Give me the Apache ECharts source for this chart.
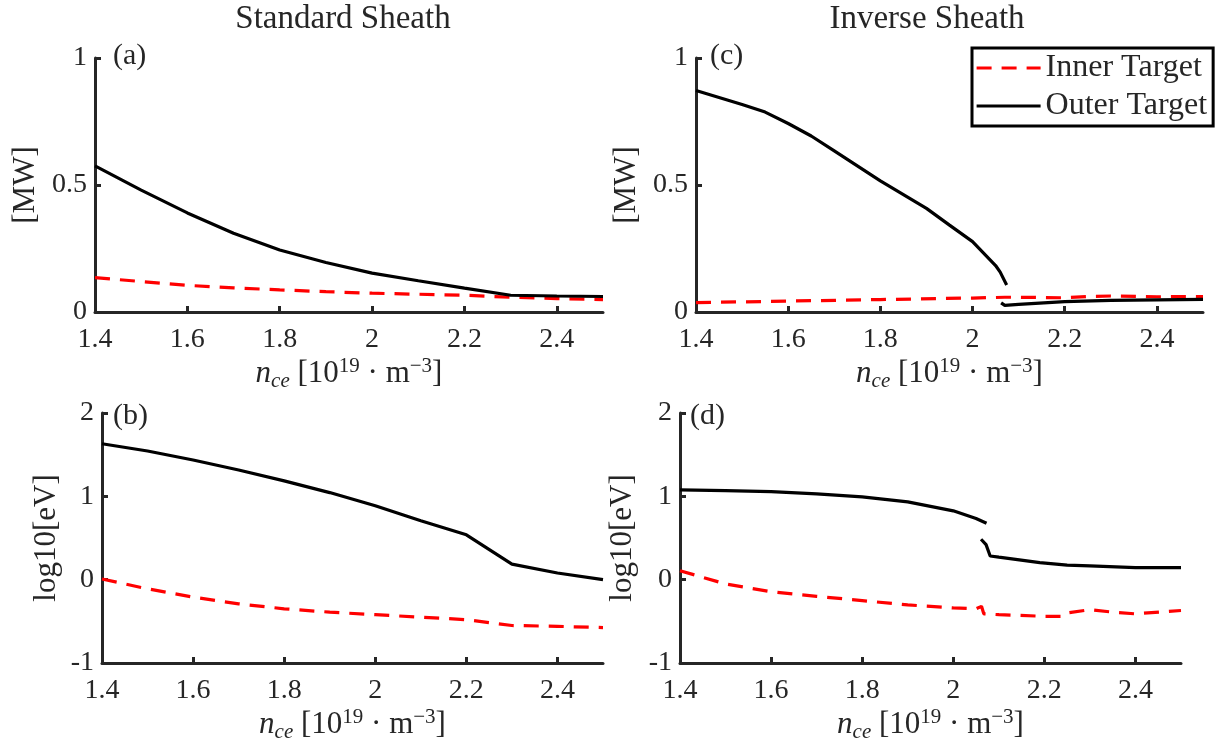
<!DOCTYPE html>
<html><head><meta charset="utf-8">
<script src="https://cdn.jsdelivr.net/npm/echarts@6/dist/echarts.min.js"></script>
<style>html,body{margin:0;padding:0;background:#fff}#c{width:1221px;height:749px}</style>
</head><body><div id="c"></div>
<script>
// ---------- data ----------
const xTicks = [1.4, 1.6, 1.8, 2.0, 2.2, 2.4];
const mwTicks = [0, 0.5, 1];
const evTicks = [-1, 0, 1, 2];

// (a) Standard sheath, power
const aX     = [1.4, 1.5, 1.6, 1.7, 1.8, 1.9, 2.0, 2.1, 2.2, 2.3, 2.4, 2.5];
const aOuter = [0.575, 0.48, 0.39, 0.31, 0.244, 0.195, 0.153, 0.123, 0.094, 0.066, 0.063, 0.061];
const aInner = [0.135, 0.12, 0.105, 0.095, 0.087, 0.08, 0.074, 0.07, 0.066, 0.058, 0.053, 0.049];

// (b) Standard sheath, log10 temperature
const bX     = [1.4, 1.5, 1.6, 1.7, 1.8, 1.9, 2.0, 2.1, 2.2, 2.3, 2.4, 2.5];
const bOuter = [1.631, 1.544, 1.436, 1.316, 1.185, 1.045, 0.886, 0.706, 0.538, 0.187, 0.08, 0.0];
const bInner = [0.008, -0.11, -0.21, -0.29, -0.35, -0.39, -0.42, -0.45, -0.48, -0.55, -0.56, -0.575];

// (c) Inverse sheath, power
const cOuterX1 = [1.4, 1.5, 1.55, 1.6, 1.65, 1.7, 1.8, 1.9, 1.95, 2.0, 2.05, 2.06, 2.074];
const cOuter1  = [0.872, 0.817, 0.787, 0.742, 0.693, 0.634, 0.516, 0.408, 0.342, 0.277, 0.183, 0.157, 0.106];
const cOuterX2 = [2.062, 2.07, 2.1, 2.2, 2.3, 2.4, 2.5];
const cOuter2  = [0.036, 0.026, 0.03, 0.041, 0.046, 0.048, 0.05];
const cInnerX  = [1.4, 1.6, 1.8, 2.0, 2.07, 2.1, 2.2, 2.25, 2.3, 2.4, 2.5];
const cInner   = [0.037, 0.043, 0.049, 0.055, 0.058, 0.058, 0.056, 0.061, 0.063, 0.06, 0.061];

// (d) Inverse sheath, log10 temperature
const dOuterX1 = [1.4, 1.5, 1.6, 1.7, 1.8, 1.9, 2.0, 2.05, 2.073];
const dOuter1  = [1.077, 1.069, 1.057, 1.029, 0.993, 0.933, 0.826, 0.734, 0.677];
const dOuterX2 = [2.061, 2.072, 2.081, 2.1, 2.19, 2.25, 2.3, 2.4, 2.5];
const dOuter2  = [0.485, 0.42, 0.284, 0.27, 0.205, 0.175, 0.165, 0.145, 0.145];
const dInnerX  = [1.4, 1.5, 1.6, 1.7, 1.8, 1.9, 2.0, 2.05, 2.062, 2.067, 2.1, 2.2, 2.24, 2.25, 2.3, 2.35, 2.4, 2.5];
const dInner   = [0.108, -0.052, -0.144, -0.2, -0.251, -0.303, -0.339, -0.35, -0.32, -0.41, -0.42, -0.44, -0.44, -0.40, -0.36, -0.39, -0.41, -0.37];

// ---------- styling ----------
const FONT = 'Liberation Serif';
const AX = '#262626';
const zip = (xs, ys) => xs.map((x, i) => [x, ys[i]]);

const xName = '{i|n}{sub|ce}{r| [10}{sup|19}{r| · m}{sup|−3}{r|]}';
const xRich = {
  i:   {fontFamily: FONT, fontStyle: 'italic', fontSize: 31, color: AX, lineHeight: 36},
  r:   {fontFamily: FONT, fontSize: 31, color: AX, lineHeight: 36},
  sub: {fontFamily: FONT, fontStyle: 'italic', fontSize: 21, color: AX, lineHeight: 14, verticalAlign: 'bottom'},
  sup: {fontFamily: FONT, fontSize: 21, color: AX, lineHeight: 12, verticalAlign: 'top'}
};

function mkX(g) {
  return {
    type: 'value', gridIndex: g, min: 1.4, max: 2.5,
    name: xName, nameLocation: 'middle', nameGap: 44,
    nameTextStyle: {rich: xRich},
    axisLine: {onZero: false, lineStyle: {color: AX, width: 3}},
    axisTick: {inside: true, length: 6, customValues: xTicks, lineStyle: {color: AX, width: 3}},
    axisLabel: {customValues: xTicks, color: AX, fontFamily: FONT, fontSize: 28, margin: 14},
    splitLine: {show: false}
  };
}
function mkY(g, min, max, ticks, name, gap) {
  return {
    type: 'value', gridIndex: g, min: min, max: max,
    name: name, nameLocation: 'middle', nameGap: gap, nameRotate: 90,
    nameTextStyle: {color: AX, fontFamily: FONT, fontSize: 31},
    axisLine: {onZero: false, lineStyle: {color: AX, width: 3}},
    axisTick: {inside: true, length: 6, customValues: ticks, lineStyle: {color: AX, width: 3}},
    axisLabel: {customValues: ticks, color: AX, fontFamily: FONT, fontSize: 28, margin: 8},
    splitLine: {show: false}
  };
}
function outer(g, data) {
  return {name: 'Outer Target', type: 'line', xAxisIndex: g, yAxisIndex: g, data: data,
    symbol: 'none', showSymbol: false, lineStyle: {color: '#000', width: 3.2}, itemStyle: {color: '#000'}};
}
function inner(g, data) {
  return {name: 'Inner Target', type: 'line', xAxisIndex: g, yAxisIndex: g, data: data,
    symbol: 'none', showSymbol: false, lineStyle: {color: '#ff0000', width: 3.2, type: [15, 10]}, itemStyle: {color: '#ff0000'}};
}
function txt(x, y, s, size, align) {
  return {type: 'text', x: x, y: y, style: {text: s, fill: AX, font: size + 'px "' + FONT + '"', textAlign: align || 'left', textVerticalAlign: 'middle'}};
}

const chart = echarts.init(document.getElementById('c'), null, {renderer: 'canvas'});
chart.setOption({
  animation: false,
  backgroundColor: '#fff',
  grid: [
    {left: 95, top: 58, width: 508, height: 254, outerBoundsMode: 'none'},
    {left: 696, top: 58, width: 507, height: 254, outerBoundsMode: 'none'},
    {left: 102, top: 413, width: 501, height: 250, outerBoundsMode: 'none'},
    {left: 680, top: 413, width: 501, height: 250, outerBoundsMode: 'none'}
  ],
  xAxis: [mkX(0), mkX(1), mkX(2), mkX(3)],
  yAxis: [
    mkY(0, 0, 1, mwTicks, '[MW]', 54),
    mkY(1, 0, 1, mwTicks, '[MW]', 54),
    mkY(2, -1, 2, evTicks, 'log10[eV]', 40),
    mkY(3, -1, 2, evTicks, 'log10[eV]', 42)
  ],
  legend: {
    data: ['Inner Target', 'Outer Target'],
    orient: 'vertical', left: 972, top: 48,
    itemWidth: 64, itemHeight: 32, itemGap: 6,
    padding: [4, 6, 4, 3],
    borderColor: '#000', borderWidth: 3, backgroundColor: '#fff',
    itemStyle: {opacity: 0},
    lineStyle: {width: 3.2},
    textStyle: {color: AX, fontFamily: FONT, fontSize: 32, lineHeight: 32}
  },
  graphic: [
    txt(343, 19, 'Standard Sheath', 33, 'center'),
    txt(927, 19, 'Inverse Sheath', 33, 'center'),
    txt(113, 56, '(a)', 30),
    txt(710, 56, '(c)', 30),
    txt(113, 416, '(b)', 30),
    txt(690, 416, '(d)', 30)
  ],
  series: [
    inner(0, zip(aX, aInner)),
    outer(0, zip(aX, aOuter)),
    inner(1, zip(cInnerX, cInner)),
    outer(1, zip(cOuterX1, cOuter1)),
    outer(1, zip(cOuterX2, cOuter2)),
    inner(2, zip(bX, bInner)),
    outer(2, zip(bX, bOuter)),
    inner(3, zip(dInnerX, dInner)),
    outer(3, zip(dOuterX1, dOuter1)),
    outer(3, zip(dOuterX2, dOuter2))
  ]
});
</script>
</body></html>
